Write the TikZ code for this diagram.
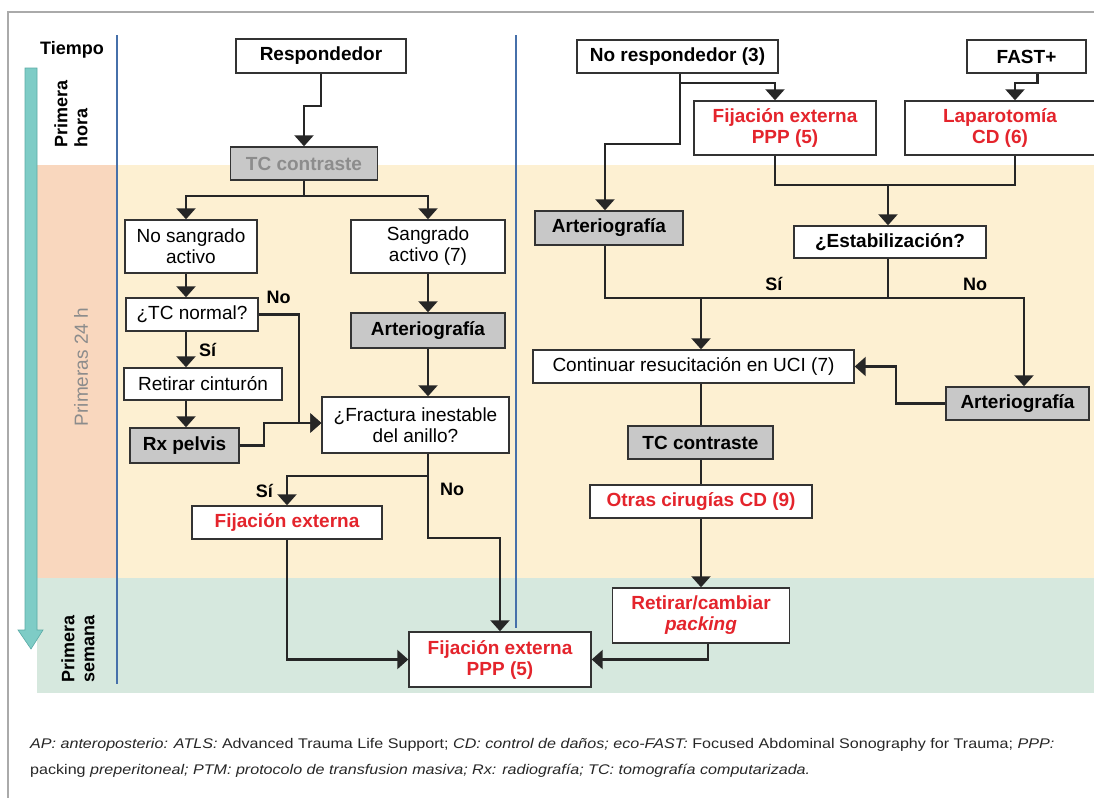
\documentclass[tikz,border=0pt]{standalone}
\usepackage{fontspec}
\setmainfont{Liberation Sans}
\newfontfamily\notefont{Liberation Sans}[FakeStretch=1.15]
\usetikzlibrary{arrows.meta}
\definecolor{peach}{RGB}{249,215,190}
\definecolor{cream}{RGB}{253,240,210}
\definecolor{mint}{RGB}{214,232,222}
\definecolor{bandblue}{RGB}{70,112,170}
\definecolor{tealfill}{RGB}{126,204,198}
\definecolor{tealedge}{RGB}{90,170,165}
\definecolor{boxgrey}{RGB}{200,200,200}
\definecolor{redtxt}{RGB}{228,36,44}
\definecolor{greytxt}{RGB}{140,140,140}
\definecolor{framegrey}{RGB}{170,170,170}
\tikzset{
  box/.style={draw=black!80, line width=1.4pt, fill=white, align=center, inner sep=2pt,
    font=\fontsize{19}{21}\selectfont},
  bbox/.style={box, font=\fontsize{19}{21}\selectfont\bfseries},
  greybox/.style={bbox, fill=boxgrey},
  redbox/.style={bbox, text=redtxt},
  line/.style={line width=2.2pt, draw=black!85},
  flow/.style={line, -{Triangle[width=19pt,length=11pt]}},
  lbl/.style={font=\fontsize{18}{20}\selectfont\bfseries, inner sep=3pt},
  timelbl/.style={rotate=90, align=left, font=\fontsize{18}{20}\selectfont\bfseries, inner sep=0pt},
}
\begin{document}
\begin{tikzpicture}[x=1pt,y=-1pt]
\useasboundingbox (0,0) rectangle (1094,798);
% bands
\fill[peach] (37,165) rectangle (117,578);
\fill[cream] (117,165) rectangle (1094,578);
\fill[mint] (37,578) rectangle (1094,693);
\draw[framegrey, line width=1.2pt] (1094,12) -- (8,12) -- (8,798);
\draw[bandblue, line width=1.6pt] (117,35) -- (117,684);
\draw[bandblue, line width=1.6pt] (516,35) -- (516,628);
\filldraw[fill=tealfill, draw=tealedge, line width=0.6pt] (25,68) -- (37,68) -- (37,630) -- (43,630)
  -- (31,649) -- (18,630) -- (25,630) -- cycle;

% time column
\node[font=\fontsize{18}{20}\selectfont\bfseries] (tiempo) at (72,50) {Tiempo};
\node[timelbl] (hora) at (71,114) {Primera\\hora};
\node[timelbl, font=\fontsize{19}{21}\selectfont, text=greytxt] (dia) at (81,367) {Primeras 24 h};
\node[timelbl] (semana) at (78,649) {Primera\\semana};

% responder
\node[bbox, minimum width=170, minimum height=34] (resp) at (321,56) {Respondedor};
\node[greybox, minimum width=147, minimum height=33, text=greytxt] (tcA) at (304,163.5) {TC contraste};
\node[box, minimum width=132, minimum height=53] (nosang) at (191,246.5) {No sangrado\\activo};
\node[box, minimum width=154, minimum height=53] (sang) at (428,246.5) {Sangrado\\activo (7)};
\node[box, minimum width=132, minimum height=33] (tcnorm) at (192,314.5) {¿TC normal?};
\node[box, minimum width=158, minimum height=32] (retir) at (203,384) {Retirar cinturón};
\node[greybox, minimum width=109, minimum height=35] (rx) at (184.5,445.5) {Rx pelvis};
\node[greybox, minimum width=154, minimum height=35] (artA) at (428,330.5) {Arteriografía};
\node[box, minimum width=187, minimum height=56] (fract) at (415.5,425) {¿Fractura inestable\\del anillo?};
\node[redbox, minimum width=190, minimum height=33] (fijA) at (287,522.5) {Fijación externa};
\node[redbox, minimum width=182, minimum height=55] (pppB) at (500,659.5) {Fijación externa\\PPP (5)};

% non responder
\node[bbox, minimum width=201, minimum height=33] (noresp) at (677.5,56.5) {No respondedor (3)};
\node[bbox, minimum width=119, minimum height=33] (fast) at (1026.5,56.5) {FAST+};
\node[redbox, minimum width=182, minimum height=54] (pppT) at (785,128) {Fijación externa\\PPP (5)};
\node[redbox, minimum width=190, minimum height=54] (lapa) at (1000,128) {Laparotomía\\CD (6)};
\node[greybox, minimum width=148, minimum height=34] (artB) at (609,228) {Arteriografía};
\node[bbox, minimum width=192, minimum height=32] (estab) at (890,242) {¿Estabilización?};
\node[box, minimum width=321, minimum height=33] (cont) at (693.5,366.5) {Continuar resucitación en UCI (7)};
\node[greybox, minimum width=143, minimum height=33] (artC) at (1017.5,403.5) {Arteriografía};
\node[greybox, minimum width=145, minimum height=33] (tcB) at (700.5,442.5) {TC contraste};
\node[redbox, minimum width=222, minimum height=33] (otras) at (701,501.5) {Otras cirugías CD (9)};
\node[redbox, minimum width=177, minimum height=55] (retc) at (701,615.5) {Retirar/cambiar\\\textit{packing}};

% left branch
\coordinate (cL) at (186,0);
\draw[flow] (resp.south) -- ++(0,32) -| (tcA.north);
\draw[line] (tcA.south) -- ++(0,15) coordinate (j1);
\draw[flow] (j1) -| (cL |- nosang.north);
\draw[flow] (j1) -| (sang.north);
\draw[flow] (cL |- nosang.south) -- (cL |- tcnorm.north);
\draw[flow] (cL |- tcnorm.south) -- node[lbl, right=9pt] (si1) {Sí} (cL |- retir.north);
\draw[flow] (cL |- retir.south) -- (cL |- rx.north);
\draw[flow] (tcnorm.east) -- node[lbl, above=7pt] (no1) {No} ++(40,0) |- ([yshift=2pt]fract.west);
\draw[flow] (rx.east) -- ++(24,0) |- ([yshift=2pt]fract.west);
\draw[flow] (sang.south) -- (artA.north);
\draw[flow] (artA.south) -- (artA.south |- fract.north);
\draw[flow] (artA.south |- fract.south) -- ++(0,22) -| node[lbl, left=10pt, pos=0.75] (si2) {Sí} (fijA.north);
\draw[flow] (artA.south |- fract.south) -- node[lbl, right=8pt, pos=0.42] (no2) {No} ++(0,84) -| (pppB.north);
\draw[flow] (fijA.south) |- (pppB.west);
\draw[flow] ([xshift=7pt]retc.south) |- (pppB.east);

% right branch
\coordinate (cR) at (701,0);
\coordinate (j2) at (888,185);
\coordinate (j3) at (888,298);
\draw[flow] ([xshift=2.5pt]noresp.south) -- ++(0,70) -| ([xshift=-4pt]artB.north);
\draw[flow] ([xshift=2.5pt,yshift=-9pt]noresp.south) -| ([xshift=-10pt]pppT.north);
\draw[flow] ([xshift=11pt]fast.south) -- ++(0,9) -| ([xshift=15pt]lapa.north);
\draw[line] ([xshift=-10pt]pppT.south) |- (j2) -| ([xshift=15pt]lapa.south);
\draw[flow] (j2) -- (j2 |- estab.north);
\draw[line] ([xshift=-4pt]artB.south) |- (j3) -- (j3 |- estab.south);
\draw[flow] (j3) -- node[lbl, above=3pt, pos=0.61] (si3) {Sí} (cR |- j3) -- (cR |- cont.north);
\draw[flow] (j3) -| node[lbl, above=3pt, pos=0.32] (no3) {No} ([xshift=6.5pt]artC.north);
\draw[flow] (artC.west) -- ++(-49,0) |- (cont.east);
\draw[line] (cR |- cont.south) -- (cR |- tcB.north);
\draw[line] (cR |- tcB.south) -- (cR |- otras.north);
\draw[flow] (cR |- otras.south) -- (cR |- retc.north);

% footnote
\node[anchor=west, inner sep=0pt, font=\notefont\fontsize{14}{16}\selectfont, text=black!85] (nota1) at (30,745)
  {\textit{AP: anteroposterio: ATLS:} Advanced Trauma Life Support; \textit{CD: control de daños; eco-FAST:} Focused Abdominal Sonography for Trauma; \textit{PPP:}};
\node[anchor=west, inner sep=0pt, font=\notefont\fontsize{14}{16}\selectfont, text=black!85] (nota2) at (30,771)
  {packing \textit{preperitoneal; PTM: protocolo de transfusion masiva; Rx: radiografía; TC: tomografía computarizada.}};
\end{tikzpicture}
\end{document}
